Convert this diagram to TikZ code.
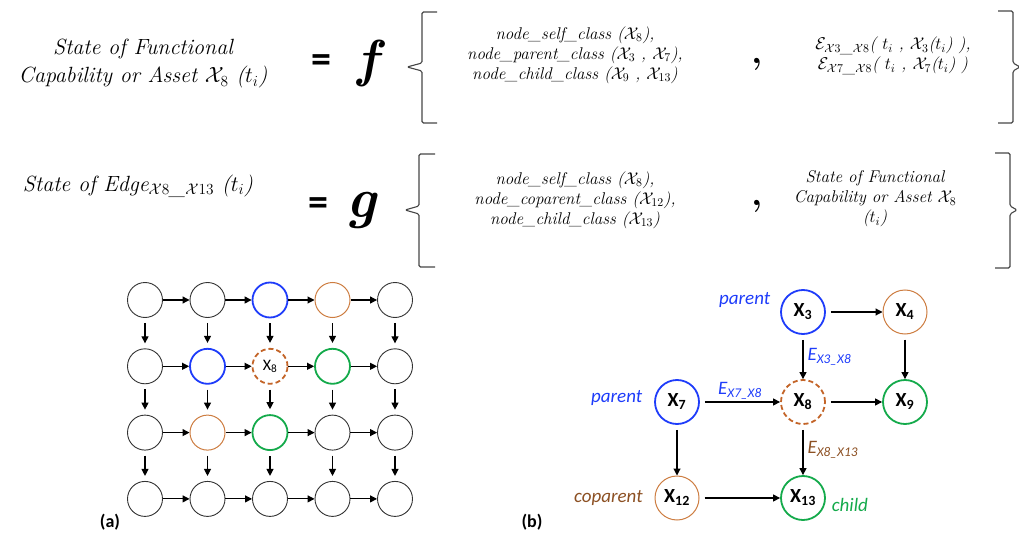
\documentclass[tikz,border=0pt]{standalone}
\usepackage{fix-cm}
\usepackage{fontspec}
\setsansfont{Carlito}
\usetikzlibrary{arrows.meta,positioning}

\definecolor{parentblue}{RGB}{30,60,250}
\definecolor{childgreen}{RGB}{20,170,75}
\definecolor{copaorange}{RGB}{205,125,65}
\definecolor{selforange}{RGB}{195,100,40}
\definecolor{labelbrown}{RGB}{140,80,35}
\definecolor{bracegray}{RGB}{70,70,70}

\begin{document}
\begin{tikzpicture}[x=1pt,y=-1pt,>={Triangle[length=7pt,width=7pt]},line width=1.1pt]
  \tikzstyle{eq}=[align=center,font=\itshape\fontsize{22}{28}\selectfont]
  \tikzstyle{arg}=[align=center,font=\itshape\fontsize{17}{20}\selectfont]
  \tikzstyle{brace}=[draw=bracegray,line width=1.1pt,rounded corners=1.5pt]
  \tikzstyle{cell}=[circle,draw=black!80,line width=0.9pt,minimum size=35pt,inner sep=0pt]
  \tikzstyle{var}=[circle,draw,minimum size=44pt,inner sep=0pt,font=\sffamily\bfseries\fontsize{20}{20}\selectfont]
  \tikzstyle{parent}=[draw=parentblue,line width=1.8pt]
  \tikzstyle{coparent}=[draw=copaorange,line width=1pt]
  \tikzstyle{child}=[draw=childgreen,line width=1.8pt]
  \tikzstyle{self}=[draw=selforange,line width=1.8pt,dash pattern=on 5pt off 3pt]
  \tikzstyle{role}=[font=\sffamily\itshape\fontsize{19}{19}\selectfont]
  \tikzstyle{elbl}=[font=\sffamily\itshape\fontsize{19}{19}\selectfont,inner sep=2pt]
  \tikzstyle{sep}=[font=\bfseries\fontsize{36}{36}\selectfont]
  \tikzset{cell 1-3/.style=parent,cell 1-4/.style=coparent,
    cell 2-2/.style=parent,cell 2-4/.style=child,cell 3-2/.style=coparent,cell 3-3/.style=child,
    cell 2-3/.style={self,label={[font=\sffamily\fontsize{16}{16}\selectfont]center:X\textsubscript{8}}}}
  \useasboundingbox (0,0) rectangle (1019,537);

  % f: state of the asset X8
  \node[eq] (lhs1) at (143,64) {State of Functional\\Capability or Asset $\mathcal{X}_8$ ($t_i$)};
  \node[font=\sffamily\bfseries\fontsize{40}{40}\selectfont] (eq1) at (321,64) {=};
  \node[font=\bfseries\itshape\fontsize{52}{52}\selectfont] (f) at (368,64) {f};
  \draw[brace] (437,12) -- (422,12) -- (422,63) -- (407,67) -- (422,71) -- (422,123) -- (437,123);
  \node[arg] (args1) at (575,55) {node\_self\_class ($\mathcal{X}_8$),\\node\_parent\_class ($\mathcal{X}_3$ , $\mathcal{X}_7$),\\node\_child\_class ($\mathcal{X}_9$ , $\mathcal{X}_{13}$)};
  \node[sep] (c1) at (757,64) {,};
  \node[arg] (edges1) at (893,56) {$\mathcal{E}_{\mathcal{X}3\_\mathcal{X}8}$( $t_i$ , $\mathcal{X}_3$($t_i$) ),\\$\mathcal{E}_{\mathcal{X}7\_\mathcal{X}8}$( $t_i$ , $\mathcal{X}_7$($t_i$) )};
  \draw[brace] (998,11) -- (1013,11) -- (1013,63) -- (1020,67) -- (1013,71) -- (1013,123) -- (998,123);

  % g: state of the edge X8 -> X13
  \node[eq] (lhs2) at (138,186) {State of Edge$_{\mathcal{X}8\_\mathcal{X}13}$ ($t_i$)};
  \node[font=\sffamily\bfseries\fontsize{40}{40}\selectfont] (eq2) at (318,207) {=};
  \node[font=\bfseries\itshape\fontsize{56}{56}\selectfont] (g) at (361,211) {g};
  \draw[brace] (435,154) -- (419,154) -- (419,206) -- (405,210) -- (419,214) -- (419,267) -- (435,267);
  \node[arg] (args2) at (575,200) {node\_self\_class ($\mathcal{X}_8$),\\node\_coparent\_class ($\mathcal{X}_{12}$),\\node\_child\_class ($\mathcal{X}_{13}$)};
  \node[sep] (c2) at (757,206) {,};
  \node[arg] (self2) at (875,199) {State of Functional\\Capability or Asset $\mathcal{X}_8$\\($t_i$)};
  \draw[brace] (995,153) -- (1010,153) -- (1010,206) -- (1017,210) -- (1010,214) -- (1010,268) -- (995,268);

  % (a) lattice of assets
  \foreach \r in {1,...,4}
    \foreach \c in {1,...,5}
      \node[cell,cell \r-\c/.try] (g\r\c) at ({82.5+62.5*\c},{300+66.3*(\r-1)}) {};
  \foreach \r in {1,...,4}
    \foreach \c in {1,...,4} {
      \pgfmathtruncatemacro\n{\c+1}
      \draw[->] (g\r\c) -- (g\r\n);
    }
  \foreach \r in {1,...,3} {
    \pgfmathtruncatemacro\n{\r+1}
    \foreach \c in {1,...,5}
      \draw[->,shorten <=5pt,shorten >=5pt] (g\r\c) -- (g\n\c);
  }
  \node[font=\sffamily\bfseries\fontsize{18}{18}\selectfont] (capa) at (110,522) {(a)};

  % (b) neighbourhood of X8
  \node[var,parent] (x3) at (803,312) {X\textsubscript{3}};
  \node[var,coparent] (x4) at (905,312) {X\textsubscript{4}};
  \node[var,parent] (x7) at (677,402) {X\textsubscript{7}};
  \node[var,self] (x8) at (803,402) {X\textsubscript{8}};
  \node[var,child] (x9) at (905,402) {X\textsubscript{9}};
  \node[var,coparent] (x12) at (677,498) {X\textsubscript{12}};
  \node[var,child] (x13) at (803,498) {X\textsubscript{13}};

  \node[role,text=parentblue,left=6pt of x3,yshift=12pt] (r3) {parent};
  \node[role,text=parentblue,left=8pt of x7,yshift=4pt] (r7) {parent};
  \node[role,text=labelbrown,left=8pt of x12] (r12) {coparent};
  \node[role,text=childgreen,right=2pt of x13,yshift=-7pt] (r13) {child};

  \begin{scope}[shorten <=5pt]
    \draw[->] (x3) -- (x4);
    \draw[->] (x3) -- node[elbl,right,text=parentblue,xshift=2pt] (e38) {E\textsubscript{X3\_X8}} (x8);
    \draw[->] (x7) -- node[elbl,above,text=parentblue] (e78) {E\textsubscript{X7\_X8}} (x8);
    \draw[->] (x8) -- (x9);
    \draw[->] (x4) -- (x9);
    \draw[->] (x7) -- (x12);
    \draw[->] (x12) -- (x13);
    \draw[->] (x8) -- node[elbl,right,text=labelbrown,xshift=2pt] (e813) {E\textsubscript{X8\_X13}} (x13);
  \end{scope}
  \node[font=\sffamily\bfseries\fontsize{18}{18}\selectfont] (capb) at (532,522) {(b)};
\end{tikzpicture}
\end{document}
